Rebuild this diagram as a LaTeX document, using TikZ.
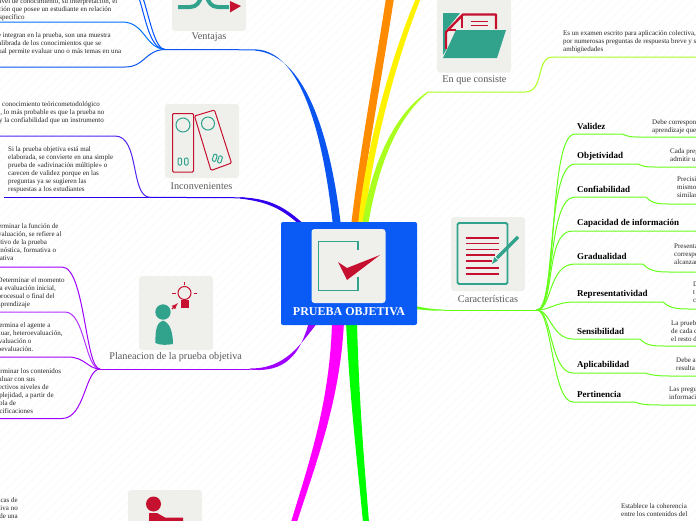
\documentclass[tikz,border=0pt]{standalone}
\usepackage{fontspec}
\setmainfont{Liberation Serif}
\usetikzlibrary{calc}
\definecolor{teal1}{HTML}{31A38D}
\definecolor{crim}{HTML}{C5112F}
\definecolor{iconbg}{HTML}{EFF0EC}
\definecolor{boxblue}{HTML}{0A5BF5}
\definecolor{lime1}{HTML}{66FF1A}
\definecolor{lime2}{HTML}{AAFF1E}
\definecolor{purp}{HTML}{A000FF}
\definecolor{viol}{HTML}{3300EE}
\definecolor{blu}{HTML}{0A55F0}
\definecolor{magent}{HTML}{FF00FF}
\definecolor{grn}{HTML}{00FF00}
\tikzset{
 body/.style={font=\fontsize{7}{8}\selectfont,align=left,anchor=north west,inner sep=0pt,text=black!85},
 bodyr/.style={body,anchor=north east,align=right},
 lab/.style={font=\fontsize{10.2}{12}\selectfont,inner sep=0pt,text=black!65},
 term/.style={font=\fontsize{9}{11}\bfseries\selectfont,anchor=west,inner sep=0pt,text=black},
 iconbox/.style={fill=iconbg,rounded corners=3pt,draw=none},
 limeline/.style={draw=lime1,line width=1pt,line cap=round},
 purpline/.style={draw=purp,line width=1pt},
 violline/.style={draw=viol,line width=1pt},
 blueline/.style={draw=blu,line width=1pt},
}
\begin{document}
\begin{tikzpicture}[x=1pt,y=-1pt]
\useasboundingbox (0,0) rectangle (696,520);
\clip (0,0) rectangle (696,520);
\fill[white] (0,0) rectangle (696,520);
% faint background hatch
\foreach \i in {0,9,...,1224}{\draw[black!2,line width=.5pt] (\i,0) -- (\i-520,520);}

% trunks (tapered shapes)
\fill[orange!90!yellow] (351,226) .. controls (360,150) and (375,70) .. (386,-2) -- (394,-2) .. controls (383,70) and (368,150) .. (358,226) -- cycle;
\fill[yellow] (358,226) .. controls (365,150) and (390,60) .. (416,-2) -- (421,-2) .. controls (396,60) and (372,150) .. (364,226) -- cycle;
\fill[lime2] (362,226) .. controls (370,170) and (392,115) .. (428,91.5) -- (428,92.7) .. controls (396,118) and (377,170) .. (368,226) -- cycle;
\draw[lime2,line width=1pt] (428,92) -- (525,92) .. controls (545,92) and (535,57) .. (553,57) -- (696,57);
\fill[blu] (333,226) .. controls (325,150) and (305,50) .. (255,49.4) -- (255,50.6) .. controls (310,55) and (332,150) .. (341,226) -- cycle;
\fill[viol] (306,226) .. controls (290,212) and (275,198) .. (240,197.4) -- (240,198.6) .. controls (272,202) and (285,212) .. (301,226) -- cycle;
\fill[purp] (318,322) .. controls (300,345) and (285,369) .. (250,368.4) -- (250,369.6) .. controls (285,373) and (300,355) .. (309,322) -- cycle;
\fill[magent] (332,322) .. controls (330,400) and (310,460) .. (291,522) -- (297,522) .. controls (317,460) and (340,400) .. (344,322) -- cycle;
\fill[grn] (346,322) .. controls (350,400) and (357,460) .. (363,522) -- (369,522) .. controls (364,460) and (359,400) .. (357,322) -- cycle;
\fill[lime1] (415,306) .. controls (425,308) and (432,309.4) .. (445,309.6) -- (445,310.6) .. controls (432,311) and (425,310) .. (415,309) -- cycle;

% centre
\node[fill=boxblue,rounded corners=2pt,minimum width=136pt,minimum height=103pt,inner sep=0pt] (centre) at (349,273.5) {};
\node[iconbox,minimum width=74pt,minimum height=74pt] (ci) at (348.5,266) {};
\draw[teal1,line width=1.7pt] (358,250) -- (358,241.5) -- (318.5,241.5) -- (318.5,290.5) -- (358,290.5) -- (358,277);
\fill[crim] (338,262) -- (347,268) -- (380,255) -- (347,280) -- cycle;
\node[font=\fontsize{12}{14}\bfseries\selectfont,text=white,inner sep=0pt] (ct) at (349,312) {PRUEBA OBJETIVA};

% ---------- Ventajas
\node[iconbox,minimum width=74pt,minimum height=74pt] (vi) at (209,-6) {};
\draw[teal1,line width=4pt] (178,7) -- (190,7) .. controls (197,7) and (199,2) .. (201,-2);
\draw[teal1,line width=4pt] (229,7) -- (218,7) .. controls (211,7) and (209,2) .. (207,-2);
\fill[crim] (230,1) -- (241,6) -- (230,12.5) -- cycle;
\node[lab] (vl) at (209,37.5) {Ventajas};
\coordinate (vj) at (165,49.5);
\draw[blueline] (vj) -- (255,49.8);
\draw[blueline,draw=blue!60!cyan!80!blue] (vj) .. controls (150,49) and (146,20) .. (139,-2);
\draw[blueline,draw=blue!60!cyan!80!blue] (vj) .. controls (155,49) and (150,20) .. (143,-2);
\draw[blueline,draw=blue!55!cyan] (vj) .. controls (145,48) and (145,22) .. (122,22) -- (0,22);
\draw[blueline] (vj) .. controls (145,50) and (145,67) .. (125,67) -- (0,67);
\node[body] (v1) at (-4,-1.5) {nivel de conocimiento, su interpretación, el\\[0pt]\hspace*{-1pt}ación que posee un estudiante en relación\\[0pt]específico};
\node[body] (v2) at (-5,32) {se integran en la prueba, son una muestra\\calibrada de los conocimientos que se\\cual permite evaluar uno o más temas en una};

% ---------- Inconvenientes
\node[iconbox,minimum width=74pt,minimum height=74pt] (ii) at (202,141) {};
\draw[crim,line width=1pt,rounded corners=1.2pt] (172.5,113.5) rectangle (193.5,172);
\draw[crim,line width=1pt,rounded corners=1.2pt] (194.5,116) -- (214.5,110) -- (231.5,163) -- (211,170.5) -- cycle;
\draw[teal1,line width=1pt] (183,125) circle (7);
\draw[teal1,line width=1pt] (208,123.5) circle (6.5);
\draw[teal1,line width=1pt,rounded corners=1pt] (178,158) rectangle (181.5,165);
\draw[teal1,line width=1pt,rounded corners=1pt] (184.5,158) rectangle (188,165);
\draw[teal1,line width=1pt,rounded corners=1pt,rotate around={-17:(217,158)}] (213,155) rectangle (216.5,162);
\draw[teal1,line width=1pt,rounded corners=1pt,rotate around={-17:(217,158)}] (218.5,155) rectangle (222,162);
\node[lab] (il) at (201.5,186) {Inconvenientes};
\coordinate (ij) at (150,197.3);
\draw[violline,draw=viol!70!blue] (ij) -- (245,197.8);
\draw[violline,draw=viol!80!blue] (4,197.3) -- (ij);
\draw[violline,draw=viol!85!white] (ij) .. controls (130,197) and (140,136) .. (115,136) -- (0,136);
\node[body] (i1) at (-6,101.5) {El conocimiento teóricometodológico\\os, lo más probable es que la prueba no\\z y la confiabilidad que un instrumento};
\node[body] (i2) at (8,146) {Si la prueba objetiva está mal\\elaborada, se convierte en una simple\\prueba de «adivinación múltiple» o\\carecen de validez porque en las\\preguntas ya se sugieren las\\respuestas a los estudiantes};

% ---------- Planeacion
\node[iconbox,minimum width=74pt,minimum height=74pt] (pi) at (176,313) {};
\fill[teal1] (163,312) circle (7.7);
\fill[teal1] (163,320.5) .. controls (157,322) and (155,330) .. (155.5,343) .. controls (160,345.5) and (168,345) .. (173,344) .. controls (173,335) and (171,323) .. (163,320.5) -- cycle;
\draw[crim,line width=1pt] (184.5,293) circle (6.5);
\fill[crim] (180.5,300) rectangle (188.5,308);
\draw[crim,line width=1pt] (184.5,281.5) -- (184.5,285) (172,293) -- (175.5,293) (193.5,293) -- (197,293);
\draw[crim,line width=1.2pt,-latex] (172,309) -- (178,303);
\node[lab] (pl) at (175.7,357) {Planeacion de la prueba objetiva};
\coordinate (pj) at (100,369);
\draw[purpline] (pj) -- (250,369);
\draw[purpline] (pj) .. controls (85,369) and (85,267) .. (62,267) -- (0,267);
\draw[purpline,draw=purp!80!white] (pj) .. controls (85,369) and (85,312) .. (65,312) -- (0,312);
\draw[purpline] (pj) .. controls (88,369) and (85,357) .. (68,357) -- (0,357);
\draw[purpline] (pj) .. controls (85,369) and (85,418.5) .. (62,418.5) -- (0,418.5);
\node[body] (p1) at (-12,223) {Determinar la función de\\la evaluación, se refiere al\\objetivo de la prueba\\diagnóstica, formativa o\\sumativa};
\node[body] (p2) at (-2.5,277) {Determinar el momento\\la evaluación inicial,\\procesual o final del\\aprendizaje};
\node[body] (p3) at (-11,322) {Determina el agente a\\evaluar, heteroevaluación,\\coevaluación o\\autoevaluación.};
\node[body] (p4) at (-13,368) {Determinar los contenidos\\a evaluar con sus\\respectivos niveles de\\complejidad, a partir de\\la tabla de\\especificaciones};

% ---------- bottom left
\node[iconbox,minimum width=74pt,minimum height=74pt] (bi) at (165,527) {};
\fill[crim] (153.5,504) circle (7.5);
\fill[crim] (149,513) -- (157,513) -- (165,517.5) -- (183,517.5) -- (183,522) -- (149,522) -- cycle;
\node[bodyr] (b1) at (18,497) {icas de\\tiva no\\de una};

% ---------- En que consiste
\node[iconbox,minimum width=74pt,minimum height=74pt] (ei) at (474,35.5) {};
\fill[teal1,rounded corners=.5pt] (443,13.2) -- (460,13.2) -- (446,30) -- (446,50) -- (443,55) -- cycle;
\draw[crim,line width=2.4pt,line join=round] (446,49) -- (446,32) -- (463,14.5) -- (496,14.5) -- (496,29);
\draw[crim,line width=1.6pt] (462,16) -- (462,28) (447,30) -- (456,30);
\draw[crim,line width=1.2pt] (470.5,21.7) -- (488,21.7) (470.5,25.7) -- (488,25.7);
\fill[teal1] (443,58) -- (456,30) -- (506,30) -- (497,58) -- cycle;
\node[lab] (el) at (474.5,80) {En que consiste};
\node[body] (e1) at (563,30) {Es un examen escrito para aplicación colectiva,\\por numerosas preguntas de respuesta breve y s\\ambigüedades};

% ---------- Caracteristicas
\node[iconbox,minimum width=74pt,minimum height=74pt] (ci2) at (488,254) {};
\draw[teal1,line width=1.8pt,rounded corners=1.5pt] (457.5,223) rectangle (507.5,284);
\foreach \yy/\xe in {238/499,243.5/499,249.3/499,255/495,261/492,268/499,274/499}{\draw[crim,line width=1.3pt] (465.5,\yy) -- (\xe,\yy);}
\draw[teal1,line width=3.3pt] (518,237) -- (497,258);
\fill[teal1] (492,264) -- (494.5,257) -- (498,260.5) -- cycle;
\node[lab] (cl) at (488,298.5) {Características};
\coordinate (cj) at (537,310);
\draw[limeline] (cj) -- (445,310);
\draw[limeline] (cj) .. controls (558,310) and (548,134) .. (575,134) -- (622,134) .. controls (630,137) and (630,137) .. (640,137) -- (696,137);
\draw[limeline] (cj) .. controls (556,310) and (546,164) .. (575,164) -- (638,164) .. controls (645,167) and (645,167) .. (657,167) -- (696,167);
\draw[limeline] (cj) .. controls (555,310) and (547,197) .. (575,197) -- (646,197) .. controls (652,204) and (660,204) .. (670,204) -- (696,204);
\draw[limeline] (cj) .. controls (555,310) and (545,231) .. (572,231) -- (696,231);
\draw[limeline] (cj) .. controls (552,310) and (548,264) .. (575,264) -- (643,264) .. controls (650,272) and (660,272) .. (670,272) -- (696,272);
\draw[limeline] (cj) .. controls (550,310) and (555,302) .. (575,302) -- (663,302) .. controls (670,309) and (680,309) .. (690,309) -- (696,309);
\draw[limeline] (cj) .. controls (550,310) and (552,339) .. (573,339) -- (640,339) .. controls (646,346) and (655,346) .. (665,346) -- (696,346);
\draw[limeline] (cj) .. controls (552,310) and (550,373) .. (573,373) -- (645,373) .. controls (652,375.5) and (660,376) .. (670,376) -- (696,376);
\draw[limeline] (cj) .. controls (552,310) and (552,402) .. (573,402) -- (635,402) .. controls (642,405) and (650,405) .. (665,405) -- (696,405);
\node[term] (t1) at (577,126) {Validez};
\node[term] (t2) at (577,156) {Objetividad};
\node[term] (t3) at (577,189) {Confiabilidad};
\node[term] (t4) at (577,223) {Capacidad de información};
\node[term] (t5) at (577,256) {Gradualidad};
\node[term] (t6) at (577,294) {Representatividad};
\node[term] (t7) at (577,331) {Sensibilidad};
\node[term] (t8) at (577,365) {Aplicabilidad};
\node[term] (t9) at (577,394) {Pertinencia};
\node[body] (d1) at (652,119) {Debe correspon\\aprendizaje que};
\node[body] (d2) at (670,148) {Cada preg\\admitir u};
\node[body] (d3) at (677,177) {Precisi\\mismo\\similar};
\node[body] (d5) at (674,244) {Presenta\\correspo\\alcanzar};
\node[body] (d6) at (693,282) {D\\t\\c};
\node[body] (d7) at (671,320) {La prueb\\de cada c\\el resto d};
\node[body] (d8) at (676,357) {Debe a\\resulta};
\node[body] (d9) at (669,387) {Las pregu\\informaci};
\node[body] (d10) at (621,503) {Establece la coherencia\\entre los contenidos del};
\end{tikzpicture}
\end{document}
